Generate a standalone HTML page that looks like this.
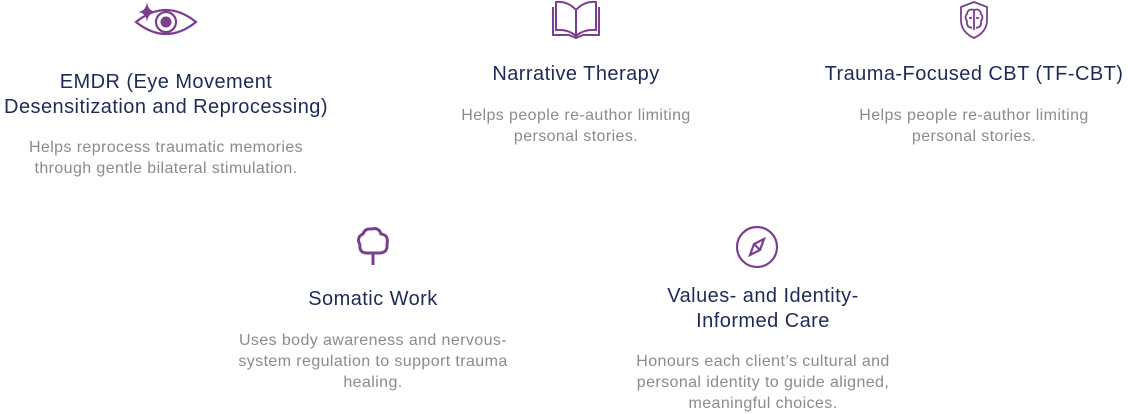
<!DOCTYPE html>
<html><head><style>
body{margin:0;width:1128px;height:414px;background:#fff;position:relative;overflow:hidden;font-family:"Liberation Sans",sans-serif}
.t{position:absolute;text-align:center;color:#1f2b57;font-size:20px;letter-spacing:0.45px;line-height:25px;transform:translateX(-50%);white-space:nowrap}
.d{position:absolute;text-align:center;color:#8b8b8b;font-size:16px;letter-spacing:0.4px;line-height:21px;transform:translateX(-50%);white-space:nowrap}
svg{position:absolute}
</style></head><body>
<svg style="left:130px;top:0" width="72" height="42" viewBox="0 0 72 42" fill="none" stroke="#7b3f8f" stroke-width="2.2">
<path d="M6 22 Q36 -2 66 22 Q36 46 6 22Z"/><circle cx="36" cy="22" r="10"/><circle cx="36" cy="22" r="5.5" fill="#7b3f8f" stroke="none"/>
<path d="M17 2 Q18 11 26 12 Q18 13 17 22 Q16 13 8 12 Q16 11 17 2Z" fill="#7b3f8f" stroke="none"/></svg>
<svg style="left:551px;top:0" width="50" height="40" viewBox="0 0 50 40" fill="none" stroke="#7b3f8f" stroke-width="2">
<path d="M25 36 V10 Q17 1 5 2 V30 Q17 29 25 36 Q33 29 45 30 V2 Q33 1 25 10"/><path d="M2 7 V35 H18 L25 38 L32 35 H48 V7"/></svg>
<svg style="left:958px;top:0" width="32" height="40" viewBox="0 0 32 40" fill="none" stroke="#7b3f8f" stroke-width="1.8">
<path d="M16 2 L29 7 V20 Q29 32 16 38 Q3 32 3 20 V7Z"/><path d="M16 9 V30 M16 10 Q10 8 9 14 Q6 17 9 21 Q8 27 14 28 M16 10 Q22 8 23 14 Q26 17 23 21 Q24 27 18 28 M11 18 H14 M18 18 H21"/></svg>
<svg style="left:355px;top:225px" width="36" height="42" viewBox="0 0 36 42" fill="none" stroke="#7b3f8f" stroke-width="3">
<path d="M18 40 V28 M12 28 Q4 28 5 20 Q1 12 8 9 Q10 3 17 4 Q24 2 26 9 Q34 10 32 19 Q33 28 24 28 Z"/></svg>
<svg style="left:735px;top:225px" width="44" height="44" viewBox="0 0 44 44" fill="none" stroke="#7b3f8f" stroke-width="2.2">
<circle cx="22" cy="22" r="20"/><path d="M29 14 L25 25 L15 30 L19 19Z M19 19 L25 25"/></svg>

<div class="t" style="left:166px;top:70px">EMDR (Eye Movement<br>Desensitization and Reprocessing)</div>
<div class="d" style="left:166px;top:137px">Helps reprocess traumatic memories<br>through gentle bilateral stimulation.</div>
<div class="t" style="left:576px;top:62px">Narrative Therapy</div>
<div class="d" style="left:576px;top:105px">Helps people re-author limiting<br>personal stories.</div>
<div class="t" style="left:974px;top:62px">Trauma-Focused CBT (TF-CBT)</div>
<div class="d" style="left:974px;top:105px">Helps people re-author limiting<br>personal stories.</div>
<div class="t" style="left:373px;top:287px">Somatic Work</div>
<div class="d" style="left:373px;top:330px">Uses body awareness and nervous-<br>system regulation to support trauma<br>healing.</div>
<div class="t" style="left:763px;top:284px">Values- and Identity-<br>Informed Care</div>
<div class="d" style="left:763px;top:351px">Honours each client’s cultural and<br>personal identity to guide aligned,<br>meaningful choices.</div>
</body></html>
